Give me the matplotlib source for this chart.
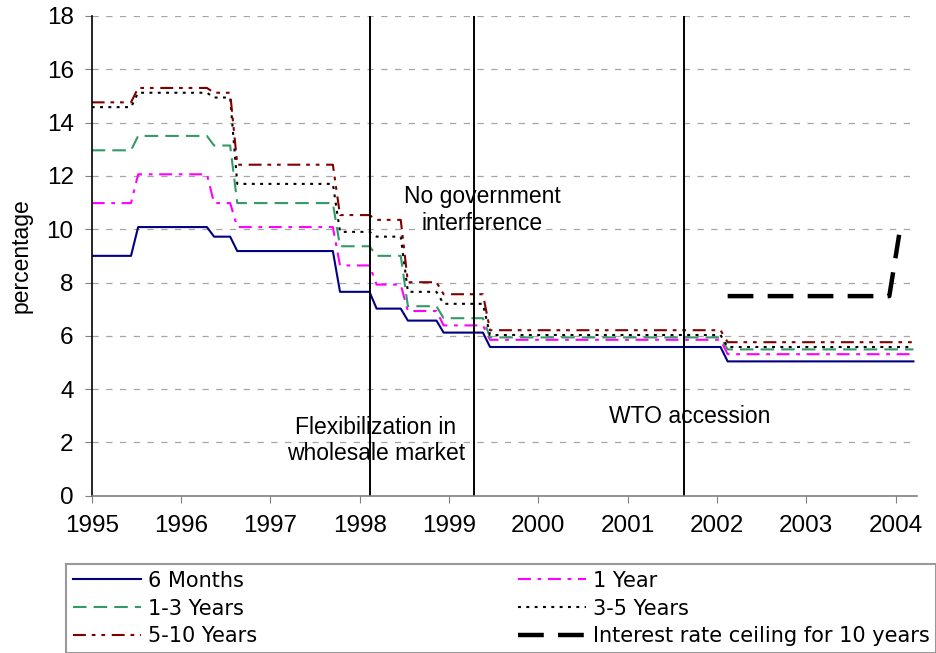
import matplotlib.pyplot as plt

plt.rcParams['font.family'] = ['Liberation Sans', 'DejaVu Sans']

# decimal-year dates where each rate step starts (ramp of ~1 month after each)
change_dates = [1995.44, 1996.29, 1996.55, 1997.70, 1998.11, 1998.46, 1998.86, 1999.38, 2002.04]
ramp = 0.08
start_year, end_year = 1995.0, 2004.20

# lending rates (%) per maturity, one level per period between changes
rate_6m = [9.00, 10.08, 9.72, 9.18, 7.65, 7.02, 6.57, 6.12, 5.58, 5.04]
rate_1y = [10.98, 12.06, 10.98, 10.08, 8.64, 7.92, 6.93, 6.39, 5.85, 5.31]
rate_1_3y = [12.96, 13.50, 13.14, 10.98, 9.36, 9.00, 7.11, 6.66, 5.94, 5.49]
rate_3_5y = [14.58, 15.12, 14.94, 11.70, 9.90, 9.72, 7.65, 7.20, 6.03, 5.58]
rate_5_10y = [14.76, 15.30, 15.12, 12.42, 10.53, 10.35, 8.01, 7.56, 6.21, 5.76]

ceiling_x = [2002.12, 2003.93, 2004.04]
ceiling_y = [7.49, 7.49, 9.79]

event_years = [1998.12, 1999.28, 2001.63]

year_ticks = list(range(1995, 2005))


def step_path(levels):
    xs, ys = [start_year], [levels[0]]
    for i, d in enumerate(change_dates):
        xs += [d, d + ramp]
        ys += [levels[i], levels[i + 1]]
    xs.append(end_year)
    ys.append(levels[-1])
    return xs, ys


fig = plt.figure(figsize=(9.37, 6.53), dpi=100)
ax = fig.add_axes([91.7 / 937, (653 - 495.7) / 653, (917 - 91.7) / 937, (495.7 - 16) / 653])

series = [
    (rate_6m, '6 Months', '#000080', '-'),
    (rate_1y, '1 Year', '#FF00FF', (0, (6.2, 3.2, 1.8, 3.2))),
    (rate_1_3y, '1-3 Years', '#339966', (0, (6.5, 3.4))),
    (rate_3_5y, '3-5 Years', 'black', (0, (1.4, 2.6))),
    (rate_5_10y, '5-10 Years', '#800000', (0, (6.2, 2.8, 1.8, 2.8, 1.8, 3.2))),
]
handles = {}
for levels, label, color, ls in series:
    xs, ys = step_path(levels)
    handles[label], = ax.plot(xs, ys, color=color, linestyle=ls, linewidth=1.5, label=label)

handles['ceil'], = ax.plot(ceiling_x, ceiling_y, color='black', linewidth=3.2,
                           linestyle=(0, (5.8, 3.2)), label='Interest rate ceiling for 10 years')

for yr in event_years:
    ax.axvline(yr, color='black', linewidth=1.4)

ax.text(1999.37, 10.72, 'No government\ninterference', ha='center', va='center', fontsize=16.5)
ax.text(1998.18, 2.07, 'Flexibilization in\nwholesale market', ha='center', va='center', fontsize=16.5)
ax.text(2001.69, 2.99, 'WTO accession', ha='center', va='center', fontsize=16.5)

ax.set_xlim(1995, 2004.24)
ax.set_ylim(0, 18)
ax.set_xticks(year_ticks)
ax.set_xticklabels([str(y) for y in year_ticks])
ax.set_yticks(range(0, 19, 2))
ax.tick_params(axis='both', labelsize=17.5, direction='out', length=5, color='#808080')
ax.tick_params(axis='x', pad=9)
ax.tick_params(axis='y', pad=8)
ax.set_ylabel('percentage', fontsize=16.5, labelpad=10)

ax.yaxis.grid(True, color='#a6a6a6', linestyle=(0, (5, 6)), linewidth=0.9)
ax.set_axisbelow(True)
for s in ['top', 'right']:
    ax.spines[s].set_visible(False)
ax.spines['left'].set_color('black')
ax.spines['left'].set_linewidth(1.2)
ax.spines['bottom'].set_color('#808080')
ax.spines['bottom'].set_linewidth(1.2)

order = ['6 Months', '1-3 Years', '5-10 Years', '1 Year', '3-5 Years', 'ceil']
leg = fig.legend([handles[k] for k in order], [handles[k].get_label() for k in order],
                 loc='upper left', bbox_to_anchor=(66 / 937, 1 - 564 / 653, (936 - 66) / 937, 0),
                 mode='expand', ncol=2, prop={'family': 'DejaVu Sans', 'size': 15},
                 frameon=True, fancybox=False, edgecolor='#808080', handlelength=3.3,
                 handletextpad=0.3, labelspacing=0.38, borderpad=0.32, borderaxespad=0)
leg.get_frame().set_linewidth(1.5)

plt.savefig('out.png', dpi=100, facecolor='white')
plt.close()
